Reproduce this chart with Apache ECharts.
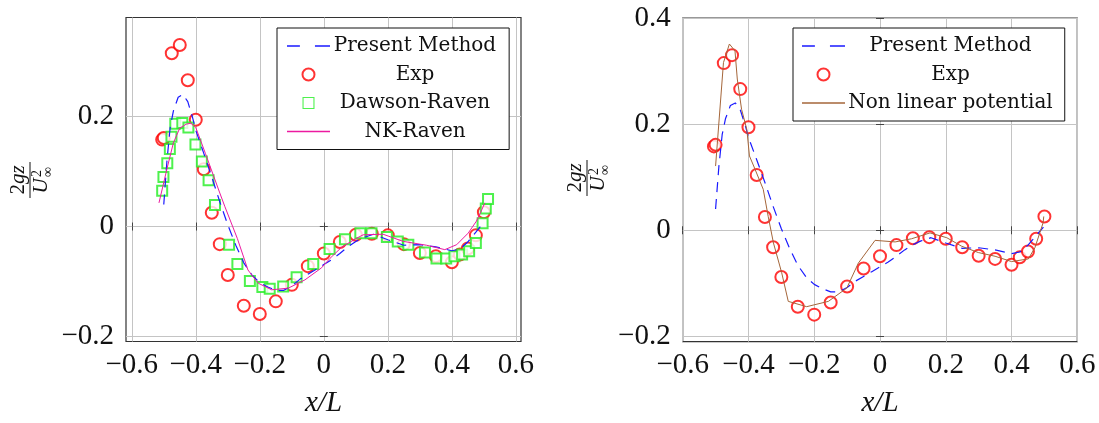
<!DOCTYPE html>
<html>
<head>
<meta charset="utf-8">
<script src="https://cdn.jsdelivr.net/npm/echarts@6/dist/echarts.min.js"></script>
<style>
  html, body { margin: 0; padding: 0; background: #fff; }
  #chart { width: 1099px; height: 423px; }
</style>
</head>
<body>
<div id="chart"></div>
<script>
// ---------------- data ----------------
const xTicks = [-0.6, -0.4, -0.2, 0, 0.2, 0.4, 0.6];
const yTicksLeft = [-0.2, 0, 0.2];
const yTicksRight = [-0.2, 0, 0.2, 0.4];

const expX = [-0.505, -0.5, -0.475, -0.45, -0.425, -0.4, -0.375, -0.35, -0.325, -0.3, -0.25, -0.2, -0.15, -0.1, -0.05, 0, 0.05, 0.1, 0.15, 0.2, 0.25, 0.3, 0.35, 0.4, 0.425, 0.45, 0.475, 0.5];
const expY = [0.158, 0.161, 0.315, 0.330, 0.266, 0.194, 0.104, 0.025, -0.032, -0.088, -0.144, -0.159, -0.136, -0.106, -0.072, -0.049, -0.028, -0.015, -0.013, -0.016, -0.032, -0.048, -0.054, -0.065, -0.051, -0.040, -0.016, 0.026];

const presentX = [-0.5, -0.49, -0.48, -0.47, -0.455, -0.44, -0.425, -0.41, -0.4, -0.375, -0.35, -0.325, -0.3, -0.275, -0.25, -0.225, -0.2, -0.175, -0.15, -0.125, -0.1, -0.075, -0.05, -0.025, 0, 0.025, 0.05, 0.075, 0.1, 0.125, 0.155, 0.2, 0.25, 0.3, 0.35, 0.4, 0.425, 0.45, 0.475, 0.497];
const presentY = [0.04, 0.12, 0.18, 0.21, 0.235, 0.24, 0.227, 0.198, 0.175, 0.133, 0.09, 0.045, 0.003, -0.034, -0.066, -0.088, -0.102, -0.11, -0.116, -0.116, -0.108, -0.096, -0.087, -0.078, -0.069, -0.06, -0.049, -0.037, -0.027, -0.02, -0.014, -0.024, -0.034, -0.033, -0.037, -0.044, -0.041, -0.028, -0.01, 0.006];

const dawsonX = [-0.505, -0.501, -0.489, -0.481, -0.476, -0.464, -0.442, -0.423, -0.401, -0.381, -0.36, -0.34, -0.296, -0.27, -0.231, -0.192, -0.169, -0.127, -0.085, -0.033, 0.018, 0.066, 0.114, 0.149, 0.197, 0.231, 0.264, 0.316, 0.352, 0.382, 0.408, 0.432, 0.454, 0.475, 0.496, 0.506, 0.513];
const dawsonY = [0.065, 0.09, 0.115, 0.141, 0.163, 0.187, 0.188, 0.18, 0.149, 0.118, 0.084, 0.039, -0.033, -0.068, -0.099, -0.11, -0.113, -0.109, -0.092, -0.068, -0.041, -0.023, -0.012, -0.012, -0.019, -0.027, -0.033, -0.047, -0.058, -0.058, -0.054, -0.051, -0.045, -0.03, 0.006, 0.033, 0.05];

const nkX = [-0.515, -0.49, -0.47, -0.45, -0.43, -0.415, -0.4, -0.37, -0.325, -0.309, -0.27, -0.237, -0.205, -0.163, -0.111, -0.059, -0.007, 0.019, 0.055, 0.1, 0.123, 0.185, 0.248, 0.321, 0.378, 0.415, 0.451, 0.477, 0.49, 0.503];
const nkY = [0.043, 0.105, 0.152, 0.179, 0.186, 0.188, 0.18, 0.133, 0.061, 0.036, -0.022, -0.079, -0.103, -0.115, -0.112, -0.097, -0.075, -0.058, -0.038, -0.022, -0.015, -0.014, -0.027, -0.034, -0.042, -0.033, -0.012, 0.01, 0.026, 0.043];

const nlpX = [-0.5, -0.476, -0.458, -0.441, -0.434, -0.421, -0.405, -0.397, -0.38, -0.355, -0.34, -0.324, -0.299, -0.279, -0.223, -0.157, -0.101, -0.066, -0.015, 0.046, 0.096, 0.152, 0.203, 0.248, 0.299, 0.35, 0.4, 0.451, 0.471, 0.496, 0.498];
const nlpY = [0.121, 0.316, 0.351, 0.338, 0.285, 0.228, 0.19, 0.14, 0.115, 0.077, 0.026, -0.024, -0.08, -0.134, -0.144, -0.134, -0.109, -0.062, -0.019, -0.022, -0.016, -0.005, -0.014, -0.03, -0.042, -0.049, -0.059, -0.054, -0.033, 0.014, 0.026];

// ---------------- helpers ----------------
const zip = (xs, ys) => xs.map((x, i) => [x, ys[i]]);
const SERIF = '"Liberation Serif", "Times New Roman", serif';
const LEGSERIF = '"DejaVu Serif", serif';
const fmt = v => (v < 0 ? '\u2212' : '') + String(Math.round(Math.abs(v) * 10) / 10);

const BLUE = '#1a1aff', RED = '#ff0000', GREEN = '#22ee22', MAGENTA = '#ec1aa0', BROWN = '#a5663a';
const ICON_DASH = 'path://M0,0h12v1.3h-12zM26,0h14v1.3h-14z';
const ICON_SOLID = 'path://M0,0h40v1.3h-40z';
const ICON_SQUARE = 'path://M0,0h10v10h-10zM0.9,0.9v8.2h8.2v-8.2z';

function xAxisMain(grid, min, max) {
  return {
    type: 'value', gridIndex: grid, min, max, position: 'bottom',
    axisLine: { show: false },
    axisTick: { show: true, inside: true, length: 4, customValues: xTicks, lineStyle: { color: '#444' } },
    axisLabel: { customValues: xTicks, formatter: fmt, fontFamily: SERIF, fontSize: 29, color: '#111', margin: 9 },
    splitLine: { show: true, lineStyle: { color: '#c4c4c4', width: 1 } },
    name: 'x/L', nameLocation: 'middle', nameGap: 47,
    nameTextStyle: { fontFamily: SERIF, fontStyle: 'italic', fontSize: 29, color: '#111' }
  };
}
function xAxisMirror(grid, min, max) {
  return {
    type: 'value', gridIndex: grid, min, max, position: 'top',
    axisLine: { show: false },
    axisTick: { show: true, inside: true, length: 4, customValues: xTicks, lineStyle: { color: '#444' } },
    axisLabel: { show: false }, splitLine: { show: false }
  };
}
function yAxisMain(grid, min, max, ticks) {
  return {
    type: 'value', gridIndex: grid, min, max, position: 'left',
    axisLine: { show: false },
    axisTick: { show: true, inside: true, length: 4, customValues: ticks, lineStyle: { color: '#444' } },
    axisLabel: { customValues: ticks, formatter: fmt, fontFamily: SERIF, fontSize: 29, color: '#111', margin: 12 },
    splitLine: { show: true, lineStyle: { color: '#c4c4c4', width: 1 } }
  };
}
function yAxisMirror(grid, min, max, ticks) {
  return {
    type: 'value', gridIndex: grid, min, max, position: 'right',
    axisLine: { show: false },
    axisTick: { show: true, inside: true, length: 4, customValues: ticks, lineStyle: { color: '#444' } },
    axisLabel: { show: false }, splitLine: { show: false }
  };
}

function yLabel(x, y) {
  return {
    type: 'group', x, y, rotation: Math.PI / 2, silent: true,
    children: [
      { type: 'text', x: 0, y: -1, style: { text: '{n|2}{i|gz}', align: 'center', verticalAlign: 'bottom',
          rich: { n: { fontFamily: SERIF, fontSize: 21, fill: '#111' }, i: { fontFamily: SERIF, fontStyle: 'italic', fontSize: 21, fill: '#111' } } } },
      { type: 'line', shape: { x1: -18, y1: 0, x2: 18, y2: 0 }, style: { stroke: '#111', lineWidth: 1 } },
      { type: 'text', x: -6, y: 1, style: { text: 'U', font: 'italic 21px ' + SERIF, fill: '#111', align: 'center', verticalAlign: 'top' } },
      { type: 'text', x: 3, y: 0, style: { text: '2', font: '14px ' + SERIF, fill: '#111', align: 'left', verticalAlign: 'top' } },
      { type: 'text', x: 3, y: 11, style: { text: '\u221e', font: '14px ' + SERIF, fill: '#111', align: 'left', verticalAlign: 'top' } }
    ]
  };
}

function legendBox(left, top, items, textWidth, pad) {
  return {
    orient: 'vertical', left, top, data: items,
    padding: pad, itemWidth: 43, itemHeight: 12, itemGap: 8.5,
    symbolKeepAspect: true,
    backgroundColor: '#fff', borderColor: '#111', borderWidth: 1, borderRadius: 0,
    selectedMode: false,
    formatter: n => '{t|' + n + '}',
    textStyle: { rich: { t: { width: textWidth, align: 'center', fontFamily: LEGSERIF, fontSize: 20, lineHeight: 22, color: '#111' } } }
  };
}

const chart = echarts.init(document.getElementById('chart'), null, { renderer: 'canvas' });

const XL = [-0.618, 0.616], YL = [-0.209, 0.380];
const XR = [-0.6, 0.6], YR = [-0.21, 0.4];

chart.setOption({
  animation: false,
  backgroundColor: '#fff',
  grid: [
    { left: 126, top: 17.5, width: 395, height: 324, show: true, borderColor: '#333', borderWidth: 1.2, backgroundColor: 'transparent', containLabel: false, outerBoundsMode: 'none' },
    { left: 682.7, top: 18, width: 394.6, height: 323.7, show: true, borderColor: '#333', borderWidth: 1.2, backgroundColor: 'transparent', containLabel: false, outerBoundsMode: 'none' }
  ],
  xAxis: [
    xAxisMain(0, XL[0], XL[1]), xAxisMirror(0, XL[0], XL[1]),
    xAxisMain(1, XR[0], XR[1]), xAxisMirror(1, XR[0], XR[1])
  ],
  yAxis: [
    yAxisMain(0, YL[0], YL[1], yTicksLeft), yAxisMirror(0, YL[0], YL[1], yTicksLeft),
    yAxisMain(1, YR[0], YR[1], yTicksRight), yAxisMirror(1, YR[0], YR[1], yTicksRight)
  ],
  legend: [
    legendBox(277, 28, [
      { name: 'Present Method', icon: ICON_DASH, itemStyle: { color: BLUE, borderWidth: 0 } },
      { name: 'Exp', icon: 'emptyCircle', itemStyle: { color: RED, borderColor: RED } },
      { name: 'Dawson-Raven', icon: ICON_SQUARE, itemStyle: { color: GREEN, borderWidth: 0 } },
      { name: 'NK-Raven', icon: ICON_SOLID, itemStyle: { color: MAGENTA, borderWidth: 0 } }
    ], 160, [8, 13, 8, 10]),
    legendBox(793, 28, [
      { name: 'Present Method', icon: ICON_DASH, itemStyle: { color: BLUE, borderWidth: 0 } },
      { name: 'Exp', icon: 'emptyCircle', itemStyle: { color: RED, borderColor: RED } },
      { name: 'Non linear potential', icon: ICON_SOLID, itemStyle: { color: BROWN, borderWidth: 0 } }
    ], 201, [8, 12, 8, 9])
  ],
  graphic: [yLabel(30, 180), yLabel(587, 178)],
  series: [
    { name: 'Present Method', type: 'line', xAxisIndex: 0, yAxisIndex: 0, data: zip(presentX, presentY), showSymbol: false, symbol: 'none',
      lineStyle: { color: BLUE, width: 1.2, type: [10, 7] }, itemStyle: { color: BLUE }, emphasis: { disabled: true } },
    { name: 'Exp', type: 'scatter', xAxisIndex: 0, yAxisIndex: 0, data: zip(expX, expY), symbol: 'emptyCircle', symbolSize: 12,
      itemStyle: { color: RED, borderColor: RED, borderWidth: 1.1 }, emphasis: { disabled: true } },
    { name: 'Dawson-Raven', type: 'scatter', xAxisIndex: 0, yAxisIndex: 0, data: zip(dawsonX, dawsonY), symbol: 'emptyRect', symbolSize: 10,
      itemStyle: { color: GREEN, borderColor: GREEN, borderWidth: 1.1 }, emphasis: { disabled: true } },
    { name: 'NK-Raven', type: 'line', xAxisIndex: 0, yAxisIndex: 0, data: zip(nkX, nkY), showSymbol: false, symbol: 'none',
      lineStyle: { color: MAGENTA, width: 1 }, itemStyle: { color: MAGENTA }, emphasis: { disabled: true } },

    { name: 'Present Method', type: 'line', xAxisIndex: 2, yAxisIndex: 2, data: zip(presentX, presentY), showSymbol: false, symbol: 'none',
      lineStyle: { color: BLUE, width: 1.2, type: [10, 7] }, itemStyle: { color: BLUE }, emphasis: { disabled: true } },
    { name: 'Exp', type: 'scatter', xAxisIndex: 2, yAxisIndex: 2, data: zip(expX, expY), symbol: 'emptyCircle', symbolSize: 12,
      itemStyle: { color: RED, borderColor: RED, borderWidth: 1.1 }, emphasis: { disabled: true } },
    { name: 'Non linear potential', type: 'line', xAxisIndex: 2, yAxisIndex: 2, data: zip(nlpX, nlpY), showSymbol: false, symbol: 'none',
      lineStyle: { color: BROWN, width: 1 }, itemStyle: { color: BROWN }, emphasis: { disabled: true } }
  ]
});
</script>
</body>
</html>
